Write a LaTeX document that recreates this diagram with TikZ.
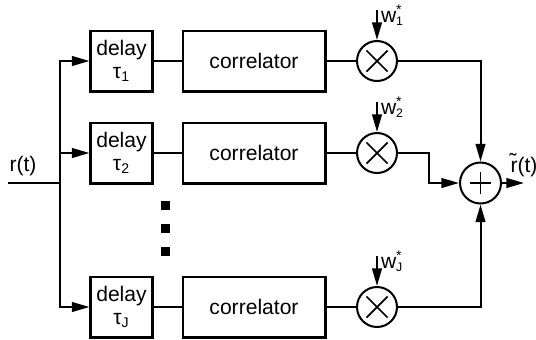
\documentclass[tikz,border=0pt]{standalone}
\usepackage{fontspec}
\setmainfont{Liberation Sans}
\usepackage{tikz}
\usetikzlibrary{arrows.meta, positioning, calc}

\newcommand{\wgt}[1]{w\raisebox{-2.2pt}{\begin{tabular}[b]{@{}l@{}}\footnotesize *\\[-6.5pt]\scriptsize #1\end{tabular}}}

\begin{document}
\begin{tikzpicture}[x=0.02cm, y=-0.02cm, line width=1.15pt,
          font=\fontsize{12}{13}\selectfont,
          blk/.style={draw, align=center, inner sep=1pt,
                      minimum height=1.22cm},
          dly/.style={blk, minimum width=1.24cm},
          cor/.style={blk, minimum width=2.86cm},
          mult/.style={circle, draw, minimum size=0.8cm, inner sep=0pt,
                       path picture={\draw[line width=1pt]
                         ([shift={(-6pt,-6pt)}]path picture bounding box.center)
                         -- ([shift={(6pt,6pt)}]path picture bounding box.center)
                         ([shift={(-6pt,6pt)}]path picture bounding box.center)
                         -- ([shift={(6pt,-6pt)}]path picture bounding box.center);}},
          summ/.style={circle, draw, minimum size=0.82cm, inner sep=0pt,
                       path picture={\draw[line width=1pt]
                         ([xshift=-6pt]path picture bounding box.center)
                         -- ([xshift=6pt]path picture bounding box.center)
                         ([yshift=-6pt]path picture bounding box.center)
                         -- ([yshift=6pt]path picture bounding box.center);}},
          dotsq/.style={fill, minimum size=0.18cm, inner sep=0pt},
          arr/.style={-{Triangle[length=10pt, width=5.5pt]}}]
  \useasboundingbox (0,0) rectangle (536,339);

  % branches
  \node[dly] (d1) at (121.5,61) {delay\\τ\textsubscript{1}};
  \node[dly] (d2) at (121.5,153) {delay\\τ\textsubscript{2}};
  \node[dly] (dJ) at (121.5,307) {delay\\τ\textsubscript{J}};
  \node[cor] (c1) at (254,61) {correlator};
  \node[cor] (c2) at (254,153) {correlator};
  \node[cor] (cJ) at (254,307) {correlator};
  \node[mult] (m1) at (377,61) {};
  \node[mult] (m2) at (377,153) {};
  \node[mult] (mJ) at (377,307) {};
  \node[summ] (sum) at (480.5,183) {};

  % dots
  \node[dotsq] (dot1) at (165.5,205.5) {};
  \node[dotsq] (dot2) at (165.5,228.5) {};
  \node[dotsq] (dot3) at (165.5,251.5) {};

  % input
  \coordinate (in) at (8,183);
  \coordinate (split) at (60,183);
  \node (rin) at (23,166) {r(t)};
  \draw (in) -- (split);
  \draw[arr] (split) |- (d1.west);
  \draw[arr] (split) |- (dJ.west);
  \draw[arr] (split |- d2.west) -- (d2.west);

  % weights
  \coordinate (wt1) at (377,10);
  \coordinate (wt2) at (377,102);
  \coordinate (wtJ) at (377,256);
  \draw[arr] (wt1) -- (m1.north);
  \draw[arr] (wt2) -- (m2.north);
  \draw[arr] (wtJ) -- (mJ.north);
  \node[anchor=base west, inner sep=0pt] (w1) at (380,22) {\wgt{1}};
  \node[anchor=base west, inner sep=0pt] (w2) at (380,114) {\wgt{2}};
  \node[anchor=base west, inner sep=0pt] (wJ) at (380,268) {\wgt{J}};

  % rows
  \foreach \r in {1,2,J} {
    \draw (d\r) -- (c\r);
    \draw (c\r) -- (m\r);
  }
  \draw[arr] (m1.east) -| (sum.north);
  \draw[arr] (mJ.east) -| (sum.south);
  \coordinate (bend2) at (429,153);
  \draw[arr] (m2.east) -- (bend2) |- (sum.west);

  % output
  \coordinate (out) at (524,183);
  \draw[arr] (sum.east) -- (out);
  \node (rout) at (524,165) {\~{r}(t)};
\end{tikzpicture}
\end{document}
